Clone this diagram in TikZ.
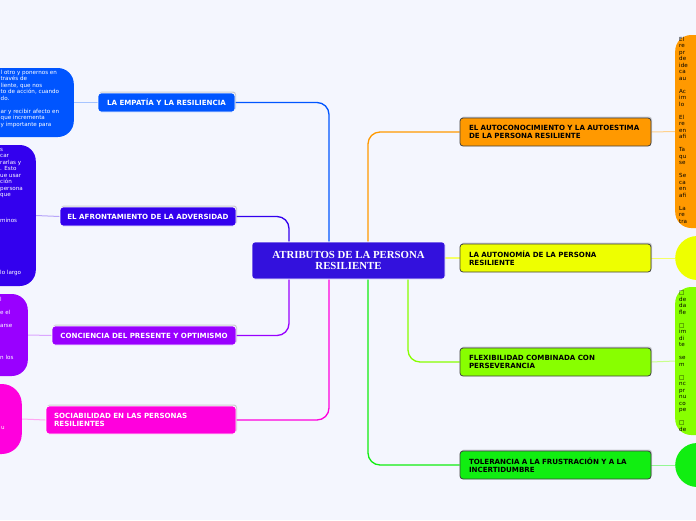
\documentclass[tikz,border=0pt]{standalone}
\usepackage{fontspec}
\newfontfamily\vfont{DejaVu Sans}
\newfontfamily\cfont{Liberation Serif}
\usetikzlibrary{shadows}
\definecolor{bg}{RGB}{244,246,254}
\definecolor{cCtr}{RGB}{51,17,221}
\definecolor{cEmp}{RGB}{0,85,255}
\definecolor{cAfr}{RGB}{51,0,238}
\definecolor{cCon}{RGB}{153,0,255}
\definecolor{cSoc}{RGB}{255,0,221}
\definecolor{cOra}{RGB}{255,153,0}
\definecolor{cYel}{RGB}{238,255,0}
\definecolor{cLim}{RGB}{136,255,0}
\definecolor{cGre}{RGB}{17,238,17}
\pgfdeclarelayer{bglayer}
\pgfdeclarelayer{lines}
\pgfsetlayers{bglayer,lines,main}
\newcommand{\bl}{\mbox{}}
\tikzset{
  topicL/.style={draw=white, line width=0.8pt, rounded corners=3pt, text=white,
    font=\vfont\bfseries\fontsize{7.1}{8.4}\selectfont, inner sep=0pt,
    drop shadow={shadow xshift=1pt, shadow yshift=1.5pt, opacity=0.35}},
  topicR/.style={draw=black!75, line width=0.8pt, rounded corners=3pt, text=black,
    font=\vfont\bfseries\fontsize{7.1}{8.4}\selectfont, inner sep=0pt,
    text width=173pt, align=left,
    drop shadow={shadow xshift=1pt, shadow yshift=1.5pt, opacity=0.35}},
  bubble/.style={rounded corners=16pt, inner sep=0pt, draw=none},
  btext/.style={font=\vfont\fontsize{5.6}{6.5}\selectfont, align=left, inner sep=0pt, anchor=north west},
  conn/.style={line width=1.3pt, rounded corners=12pt},
  sub/.style={line width=1pt},
}
\begin{document}
\begin{tikzpicture}[x=1pt,y=-1pt]
\begin{pgfonlayer}{bglayer}
\fill[bg] (0,0) rectangle (696,520);
\end{pgfonlayer}
\useasboundingbox (0,0) rectangle (696,520);

% central
\node[fill=cCtr, draw=white, line width=0.6pt, rounded corners=3pt, minimum width=193pt, minimum height=37pt,
  text=white, font=\cfont\bfseries\fontsize{10.8}{11.5}\selectfont, align=center, inner sep=0pt]
  (ctr) at (348.5,260.5) {ATRIBUTOS DE LA PERSONA\\RESILIENTE};

% left topics
\node[topicL, fill=cEmp, minimum width=137pt, minimum height=19pt] (emp) at (166.5,102.5) {LA EMPATÍA Y LA RESILIENCIA};
\node[topicL, fill=cAfr, minimum width=176pt, minimum height=19pt] (afr) at (148,216.5) {EL AFRONTAMIENTO DE LA ADVERSIDAD};
\node[topicL, fill=cCon, minimum width=184pt, minimum height=19pt] (con) at (144,335.5) {CONCIENCIA DEL PRESENTE Y OPTIMISMO};
\node[topicL, fill=cSoc, minimum width=190pt, minimum height=28pt, text width=174pt, align=left] (soc) at (141,420) {SOCIABILIDAD EN LAS PERSONAS\\RESILIENTES};

% right topics
\node[topicR, fill=cOra, minimum width=191pt, minimum height=28pt] (aut) at (555.5,132) {EL AUTOCONOCIMIENTO Y LA AUTOESTIMA\\DE LA PERSONA RESILIENTE};
\node[topicR, fill=cYel, minimum width=191pt, minimum height=28pt] (ato) at (555.5,258) {LA AUTONOMÍA DE LA PERSONA\\RESILIENTE};
\node[topicR, fill=cLim, minimum width=191pt, minimum height=28pt] (flx) at (555.5,362) {FLEXIBILIDAD COMBINADA CON\\PERSEVERANCIA};
\node[topicR, fill=cGre, minimum width=191pt, minimum height=28pt] (tol) at (555.5,465) {TOLERANCIA A LA FRUSTRACIÓN Y A LA\\INCERTIDUMBRE};

% branch columns
\coordinate (ka) at (289,0);
\coordinate (kb) at (329,0);
\coordinate (kc) at (368,0);
\coordinate (kd) at (408,0);

\begin{scope}
\clip (0,0) rectangle (696,520);
% left bubbles
\node[bubble, fill=cEmp, minimum width=120pt, minimum height=69pt, anchor=east] (bEmp) at (74,102.5) {};
\node[bubble, fill=cAfr, minimum width=80pt, minimum height=141pt, anchor=east] (bAfr) at (36,215.5) {};
\node[bubble, fill=cCon, minimum width=80pt, minimum height=82pt, anchor=east] (bCon) at (28,335) {};
\node[bubble, fill=cSoc, rounded corners=20pt, minimum width=80pt, minimum height=70pt, anchor=east] (bSoc) at (22,419) {};
% right bubbles
\node[bubble, fill=cOra, minimum width=80pt, minimum height=193pt, anchor=west] (bOra) at (675,131.5) {};
\node[bubble, fill=cYel, rounded corners=22pt, minimum width=80pt, minimum height=44pt, anchor=west] (bYel) at (675,258) {};
\node[bubble, fill=cLim, minimum width=80pt, minimum height=148pt, anchor=west] (bLim) at (675,361) {};
\node[bubble, fill=cGre, rounded corners=22pt, minimum width=80pt, minimum height=44pt, anchor=west] (bGre) at (675,465) {};

% bubble texts
\node[btext, text=white] (tEmp) at (0.5,70) {l otro y ponernos en\\través de\\liente, que nos\\to de acción, cuando\\do.\\\bl\\ar y recibir afecto en\\que incrementa\\y importante para};
\node[btext, text=white] (tAfr) at (0,148) {s\\car\\rarlas y\\. Esto\\ue usar\\ción\\persona\\que\\\bl\\\bl\\\bl\\minos\\\bl\\\bl\\\bl\\\bl\\\bl\\\bl\\\bl\\lo largo};
\node[btext, text=white] (tCon) at (0,297) {l\\\bl\\e el\\\bl\\arse\\\bl\\\bl\\\bl\\\bl\\n los};
\node[btext, text=white] (tSoc) at (1,426) {u};
\node[btext, text=black] (tOra) at (679,37) {El\\re\\pr\\de\\ide\\ca\\au\\\bl\\Ac\\im\\lo\\\bl\\El\\re\\en\\afi\\\bl\\Ta\\qu\\se\\\bl\\Se\\ca\\en\\afi\\\bl\\La\\re\\tra};
\node[btext, text=black] (tLim) at (679,291) {□\\de\\da\\fle\\\bl\\□\\im\\di\\te\\\bl\\se\\m\\\bl\\□\\nc\\pr\\nu\\co\\pe\\\bl\\□\\de};
\end{scope}

\begin{pgfonlayer}{lines}
\draw[conn, cEmp] (emp.east) -- (emp.east -| kb) -- (kb |- ctr.north);
\draw[conn, cAfr] (afr.east) -- (afr.east -| ka) -- (ka |- ctr.north);
\draw[conn, cOra] (aut.west) -- (aut.west -| kc) -- (kc |- ctr.north);
\draw[conn, cYel!60] (ctr.east |- ato.west) -- (ato.west);
\draw[conn, cCon] (con.east) -- (con.east -| ka) -- (ka |- ctr.south);
\draw[conn, cSoc] (soc.east) -- (soc.east -| kb) -- (kb |- ctr.south);
\draw[conn, cLim] (flx.west) -- (flx.west -| kd) -- (kd |- ctr.south);
\draw[conn, cGre] (tol.west) -- (tol.west -| kc) -- (kc |- ctr.south);
% to bubbles
\draw[sub, cEmp!35] (bEmp.east) -- (emp.west);
\draw[sub, cAfr!35] (bAfr.east) -- (afr.west);
\draw[sub, cCon!35] (bCon.east) -- (con.west);
\draw[sub, cSoc!35] (bSoc.east) -- (soc.west);
\draw[sub, cOra!45] (aut.east) -- (bOra.west);
\draw[sub, cYel!60] (ato.east) -- (bYel.west);
\draw[sub, cLim!45] (flx.east) -- (bLim.west);
\draw[sub, cGre!45] (tol.east) -- (bGre.west);
\end{pgfonlayer}
\end{tikzpicture}
\end{document}
